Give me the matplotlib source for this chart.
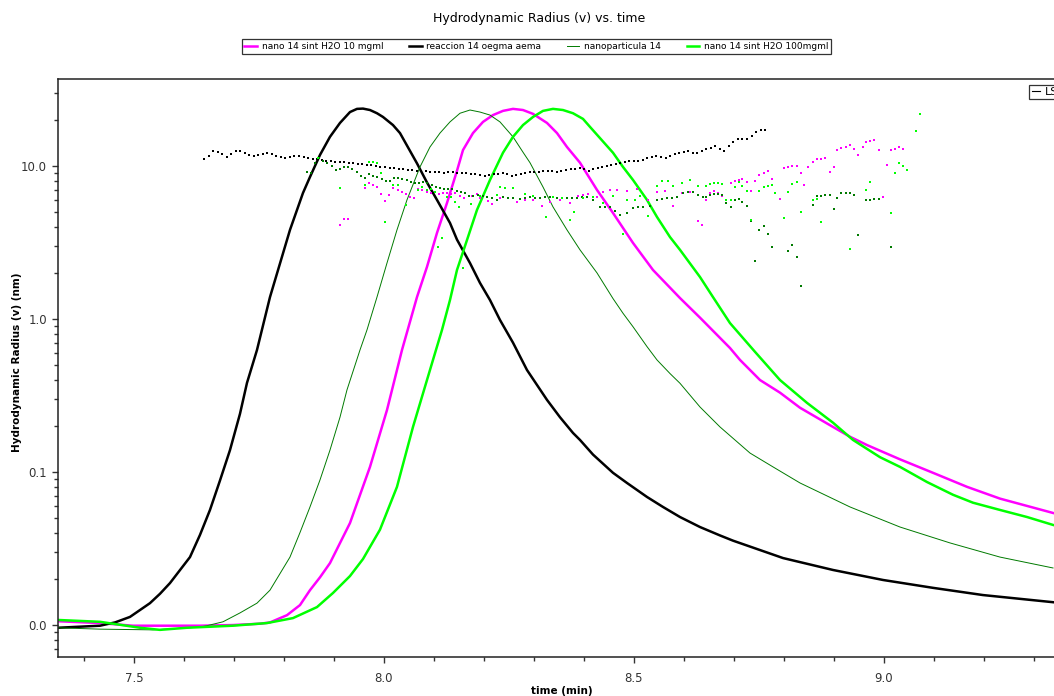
import matplotlib
matplotlib.use('Agg')
import matplotlib.pyplot as plt
from matplotlib.lines import Line2D
from matplotlib.ticker import FixedLocator, MultipleLocator, LogLocator, FuncFormatter, NullFormatter
import numpy

plt.rcParams['font.family'] = ['DejaVu Sans']

# Concentration traces (time in min)
t_nano10 = [7.346, 7.432, 7.498, 7.632, 7.698, 7.752, 7.772, 7.806, 7.832, 7.852, 7.872, 7.892, 7.932,
            7.972, 8.006, 8.036, 8.066, 8.086, 8.106, 8.126, 8.146, 8.158, 8.178, 8.198, 8.218, 8.238,
            8.258, 8.278, 8.298, 8.326, 8.346, 8.366, 8.392, 8.426, 8.458, 8.498, 8.538, 8.592, 8.632,
            8.692, 8.712, 8.752, 8.792, 8.832, 8.898, 8.932, 8.966, 9.032, 9.098, 9.166, 9.232, 9.338]
y_nano10 = [0.0106, 0.0103, 0.0099, 0.0099, 0.0100, 0.0102, 0.0104, 0.0116, 0.0135, 0.0169, 0.0205, 0.0254,
            0.0464, 0.108, 0.254, 0.627, 1.39, 2.19, 3.65, 5.73, 9.3, 12.7, 16.4, 19.4, 21.5, 22.9,
            23.6, 23.2, 21.9, 19.1, 16.4, 13.3, 10.5, 6.97, 4.93, 3.14, 2.09, 1.37, 1.02,
            0.646, 0.54, 0.399, 0.33, 0.263, 0.197, 0.170, 0.150, 0.121, 0.0988, 0.080, 0.067, 0.054]

t_reac = [7.348, 7.432, 7.462, 7.492, 7.532, 7.552, 7.572, 7.612, 7.632, 7.652, 7.672, 7.692, 7.712,
          7.726, 7.746, 7.772, 7.812, 7.838, 7.852, 7.872, 7.892, 7.912, 7.932, 7.946, 7.958, 7.972,
          7.986, 7.998, 8.018, 8.032, 8.066, 8.086, 8.106, 8.132, 8.146, 8.172, 8.192, 8.212, 8.232,
          8.258, 8.286, 8.326, 8.352, 8.378, 8.392, 8.418, 8.458, 8.486, 8.526, 8.558, 8.592, 8.632,
          8.672, 8.698, 8.798, 8.898, 8.998, 9.098, 9.198, 9.338]
y_reac = [0.0096, 0.0099, 0.0104, 0.0113, 0.0139, 0.0160, 0.0188, 0.0278, 0.0388, 0.0565, 0.088, 0.139, 0.24,
          0.382, 0.627, 1.39, 3.82, 6.66, 8.47, 11.8, 15.5, 19.1, 22.5, 23.6, 23.7, 23.2,
          22.1, 20.9, 18.5, 16.4, 10.4, 7.8, 6.0, 4.24, 3.3, 2.32, 1.72, 1.33, 0.985,
          0.70, 0.464, 0.296, 0.228, 0.180, 0.162, 0.130, 0.0988, 0.0848, 0.0687, 0.0591, 0.0508, 0.0437,
          0.0385, 0.0356, 0.0274, 0.0229, 0.0197, 0.0175, 0.0157, 0.0141]

t_np14 = [7.346, 7.432, 7.538, 7.632, 7.646, 7.678, 7.712, 7.746, 7.772, 7.812, 7.832, 7.852, 7.872,
          7.892, 7.912, 7.926, 7.952, 7.966, 7.986, 8.006, 8.026, 8.046, 8.072, 8.092, 8.112, 8.132,
          8.152, 8.172, 8.192, 8.212, 8.232, 8.258, 8.278, 8.292, 8.318, 8.338, 8.366, 8.392, 8.426,
          8.458, 8.478, 8.498, 8.526, 8.546, 8.572, 8.592, 8.632, 8.672, 8.732, 8.778, 8.832, 8.932,
          9.032, 9.132, 9.232, 9.338]
y_np14 = [0.0096, 0.0094, 0.0093, 0.0097, 0.0099, 0.0105, 0.0120, 0.0139, 0.0169, 0.0278, 0.0402, 0.0591, 0.0887,
          0.139, 0.228, 0.344, 0.627, 0.848, 1.39, 2.32, 3.82, 6.0, 9.85, 13.3, 16.4, 19.4,
          22.1, 23.2, 22.5, 21.5, 19.4, 15.5, 12.3, 10.5, 7.29, 5.40, 3.82, 2.83, 2.00,
          1.36, 1.09, 0.89, 0.66, 0.54, 0.44, 0.38, 0.266, 0.197, 0.133, 0.108, 0.0848, 0.0591,
          0.0437, 0.0344, 0.0278, 0.0236]

t_nano100 = [7.346, 7.432, 7.512, 7.552, 7.606, 7.698, 7.766, 7.818, 7.866, 7.898, 7.932, 7.958, 7.992,
             8.026, 8.058, 8.098, 8.116, 8.132, 8.146, 8.166, 8.186, 8.212, 8.238, 8.258, 8.278, 8.298,
             8.318, 8.338, 8.358, 8.378, 8.398, 8.412, 8.432, 8.458, 8.478, 8.498, 8.526, 8.546, 8.572,
             8.592, 8.632, 8.658, 8.692, 8.742, 8.792, 8.846, 8.898, 8.938, 8.992, 9.032, 9.086, 9.138,
             9.178, 9.232, 9.286, 9.338]
y_nano100 = [0.0108, 0.0105, 0.0096, 0.0093, 0.0096, 0.0099, 0.0103, 0.0111, 0.0131, 0.0162, 0.0209, 0.027, 0.042,
             0.080, 0.197, 0.54, 0.848, 1.33, 2.09, 3.28, 5.16, 8.1, 12.2, 15.5, 18.5, 20.9,
             22.9, 23.6, 23.2, 22.1, 20.3, 18.0, 15.2, 12.2, 9.85, 8.1, 6.0, 4.64, 3.43,
             2.83, 1.88, 1.39, 0.94, 0.61, 0.399, 0.283, 0.21, 0.162, 0.125, 0.108, 0.086, 0.071,
             0.063, 0.0565, 0.0508, 0.0451]

# Radius per slice (nm); the reaction run is sampled on a regular grid
reac_dots_start = 7.640
reac_dots_step = 0.00905
r_reac = [11.1, 11.6, 12.5, 12.3, 12.0, 11.5, 12.0, 12.5, 12.5, 12.2,
          11.8, 11.6, 11.8, 12.0, 12.2, 12.0, 11.6, 11.5, 11.3, 11.5,
          11.6, 11.6, 11.5, 11.3, 11.1, 11.1, 10.9, 10.8, 10.8, 10.6,
          10.6, 10.6, 10.5, 10.5, 10.3, 10.3, 10.15, 10.15, 10.0, 9.85,
          9.85, 9.70, 9.70, 9.56, 9.56, 9.41, 9.41, 9.27, 9.27, 9.27,
          9.14, 9.14, 9.14, 9.00, 9.14, 9.14, 9.00, 9.00, 9.00, 8.87,
          8.87, 8.73, 8.60, 8.73, 8.87, 8.87, 9.00, 8.87, 8.60, 8.73,
          8.87, 9.00, 9.14, 9.14, 9.14, 9.27, 9.27, 9.27, 9.14, 9.27,
          9.41, 9.56, 9.56, 9.70, 9.56, 9.27, 9.56, 9.70, 9.85, 10.0,
          10.15, 10.3, 10.5, 10.6, 10.8, 10.8, 10.8, 10.9, 11.3, 11.5,
          11.6, 11.5, 11.3, 11.6, 12.0, 12.2, 12.3, 12.5, 12.2, 12.2,
          12.5, 12.9, 13.1, 13.5, 12.9, 12.5, 13.5, 14.4, 15.0, 15.0,
          15.0, 15.7, 16.7, 17.2, 17.2]

tr_np14 = [7.846, 7.854, 7.862, 7.870, 7.878, 7.886, 7.896, 7.904, 7.912, 7.920, 7.928, 7.936, 7.946,
           7.954, 7.962, 7.970, 7.978, 7.986, 7.996, 8.004, 8.012, 8.020, 8.028, 8.036, 8.046, 8.054,
           8.062, 8.070, 8.078, 8.086, 8.096, 8.104, 8.112, 8.120, 8.128, 8.136, 8.146, 8.154, 8.162,
           8.170, 8.178, 8.188, 8.198, 8.206, 8.216, 8.226, 8.238, 8.248, 8.258, 8.272, 8.282, 8.292,
           8.302, 8.312, 8.322, 8.332, 8.346, 8.356, 8.366, 8.376, 8.386, 8.396, 8.406, 8.418, 8.432,
           8.442, 8.452, 8.462, 8.472, 8.486, 8.498, 8.508, 8.518, 8.532, 8.546, 8.556, 8.566, 8.576,
           8.586, 8.598, 8.608, 8.618, 8.628, 8.638, 8.644, 8.652, 8.660, 8.668, 8.676, 8.684, 8.694,
           8.702, 8.710, 8.716, 8.726, 8.734, 8.742, 8.750, 8.760, 8.768, 8.776, 8.808, 8.816, 8.826,
           8.834, 8.858, 8.866, 8.874, 8.882, 8.892, 8.900, 8.906, 8.914, 8.924, 8.932, 8.940, 8.948,
           8.964, 8.972, 8.980, 8.990, 9.014]
r_np14 = [9.14, 9.00, 10.5, 11.3, 10.8, 10.5, 10.0, 9.41, 9.56, 9.85, 9.85, 9.56, 9.14,
          8.60, 8.35, 8.87, 8.60, 8.47, 8.22, 7.98, 7.98, 8.35, 8.35, 8.22, 8.10, 7.86,
          7.74, 7.74, 7.86, 7.74, 7.51, 7.29, 7.18, 7.08, 7.08, 7.08, 6.87, 6.77, 6.66,
          6.37, 6.37, 6.46, 6.37, 6.27, 6.18, 6.00, 6.27, 6.18, 6.18, 6.09, 6.18, 6.27,
          6.18, 6.18, 6.27, 6.27, 6.18, 6.18, 6.18, 6.18, 6.18, 6.27, 6.27, 6.00, 5.40,
          5.40, 5.40, 5.08, 4.78, 4.93, 5.31, 5.40, 5.40, 5.48, 6.00, 6.09, 6.18, 6.18,
          6.27, 6.66, 6.77, 6.77, 6.46, 6.27, 6.27, 6.46, 6.56, 6.56, 6.46, 5.73, 5.40,
          6.00, 6.09, 5.82, 5.48, 4.37, 2.39, 3.82, 4.06, 3.59, 2.96, 2.78, 3.05, 2.54,
          1.64, 5.56, 6.37, 6.37, 6.46, 6.46, 5.23, 6.18, 6.66, 6.66, 6.66, 6.46, 3.54,
          6.00, 6.00, 6.09, 6.09, 2.96]

tr_nano10 = [7.912, 7.920, 7.928, 7.962, 7.970, 7.978, 7.986, 7.994, 8.002, 8.010, 8.018, 8.028, 8.036,
             8.044, 8.052, 8.060, 8.068, 8.076, 8.086, 8.094, 8.102, 8.110, 8.118, 8.126, 8.134, 8.142,
             8.152, 8.160, 8.176, 8.186, 8.192, 8.208, 8.216, 8.232, 8.248, 8.266, 8.282, 8.298, 8.316,
             8.332, 8.352, 8.372, 8.388, 8.398, 8.408, 8.426, 8.438, 8.452, 8.466, 8.486, 8.506, 8.528,
             8.546, 8.562, 8.578, 8.596, 8.612, 8.628, 8.636, 8.644, 8.652, 8.660, 8.668, 8.676, 8.694,
             8.702, 8.710, 8.716, 8.726, 8.734, 8.742, 8.750, 8.760, 8.768, 8.776, 8.792, 8.800, 8.808,
             8.816, 8.826, 8.834, 8.840, 8.848, 8.858, 8.866, 8.874, 8.882, 8.892, 8.900, 8.906, 8.914,
             8.924, 8.932, 8.940, 8.948, 8.958, 8.964, 8.972, 8.980, 8.990, 8.998, 9.006, 9.014, 9.022,
             9.030, 9.038]
r_nano10 = [4.11, 4.51, 4.51, 7.18, 7.74, 7.51, 7.29, 6.56, 5.90, 6.46, 7.18, 6.97, 6.77,
            6.56, 6.27, 6.18, 7.08, 6.97, 6.77, 6.66, 6.77, 6.56, 6.66, 6.66, 6.56, 6.66,
            6.37, 6.18, 6.37, 6.56, 6.18, 5.90, 5.65, 6.18, 6.18, 5.82, 6.00, 6.00, 5.48,
            5.82, 6.00, 5.73, 6.37, 6.46, 6.56, 6.27, 6.77, 6.97, 6.97, 6.87, 7.08, 6.00,
            6.77, 6.87, 5.48, 6.66, 6.77, 4.37, 4.11, 6.00, 6.66, 6.87, 6.66, 6.37, 7.74,
            7.98, 8.10, 8.22, 7.86, 6.87, 7.98, 8.73, 9.00, 9.27, 8.22, 6.09, 9.70, 9.85,
            10.0, 10.0, 9.00, 7.51, 9.85, 10.6, 11.1, 11.1, 11.3, 9.14, 9.85, 12.7, 13.1,
            13.3, 13.7, 12.9, 11.8, 13.3, 14.4, 14.6, 14.8, 12.7, 6.27, 10.15, 12.7, 12.9,
            13.3, 12.9]

tr_nano100 = [7.868, 7.912, 7.962, 7.970, 7.978, 7.986, 7.994, 8.002, 8.018, 8.028, 8.044, 8.068, 8.076,
              8.086, 8.094, 8.102, 8.108, 8.116, 8.126, 8.134, 8.142, 8.150, 8.158, 8.174, 8.192, 8.226,
              8.232, 8.242, 8.258, 8.282, 8.298, 8.324, 8.338, 8.356, 8.372, 8.380, 8.398, 8.418, 8.438,
              8.458, 8.478, 8.486, 8.502, 8.512, 8.528, 8.546, 8.556, 8.568, 8.578, 8.596, 8.612, 8.628,
              8.644, 8.652, 8.660, 8.668, 8.676, 8.684, 8.694, 8.702, 8.710, 8.716, 8.726, 8.734, 8.750,
              8.760, 8.768, 8.776, 8.782, 8.800, 8.808, 8.816, 8.826, 8.834, 8.858, 8.866, 8.874, 8.932,
              8.964, 8.972, 9.014, 9.022, 9.030, 9.038, 9.046, 9.064, 9.072]
r_nano100 = [11.3, 7.18, 7.51, 10.6, 10.6, 10.5, 9.00, 4.30, 7.51, 7.51, 5.56, 6.97, 7.29,
             6.97, 7.08, 6.77, 2.96, 3.38, 6.27, 6.27, 5.82, 5.40, 2.16, 5.65, 6.37, 6.46,
             7.29, 7.18, 7.18, 6.56, 6.37, 4.64, 6.27, 6.18, 4.44, 5.00, 6.18, 6.27, 5.73,
             6.37, 3.59, 6.00, 6.00, 6.37, 4.71, 7.40, 7.98, 7.98, 7.40, 7.74, 8.10, 7.40,
             7.40, 7.63, 7.74, 7.74, 7.63, 6.00, 6.00, 7.29, 7.86, 7.40, 6.87, 4.44, 6.87,
             7.29, 7.40, 7.51, 6.66, 4.57, 6.77, 7.63, 7.86, 5.00, 6.00, 6.09, 4.30, 2.87,
             6.97, 7.86, 4.93, 9.00, 10.5, 10.0, 9.41, 16.9, 21.9]

labels = ['nano 14 sint H2O 10 mgml', 'reaccion 14 oegma aema', 'nanoparticula 14', 'nano 14 sint H2O 100mgml']
colors = ['#ff00ff', '#000000', '#007a00', '#00ff00']
widths = [1.8, 1.8, 0.7, 1.8]

fig = plt.figure(figsize=(10.54, 6.96), dpi=100)
ax = fig.add_axes([0.0550, 0.0560, 0.9564, 0.8305])

traces = [(t_nano10, y_nano10), (t_reac, y_reac), (t_np14, y_np14), (t_nano100, y_nano100)]
for (t, y), lab, c, w in zip(traces, labels, colors, widths):
    ax.plot(t, y, color=c, linewidth=w, label=lab)

t_reac_dots = reac_dots_start + reac_dots_step * numpy.arange(len(r_reac))
dots = [(tr_nano10, r_nano10, colors[0]), (t_reac_dots, r_reac, colors[1]),
        (tr_np14, r_np14, colors[2]), (tr_nano100, r_nano100, colors[3])]
for t, r, c in dots:
    ax.plot(t, r, linestyle='none', marker='s', markersize=2.1, markeredgewidth=0, color=c)

ax.set_yscale('log')
ax.set_xlim(7.348, 9.364)
ax.set_ylim(0.00618, 37.0)

ax.xaxis.set_major_locator(FixedLocator([7.5, 8.0, 8.5, 9.0]))
ax.xaxis.set_minor_locator(MultipleLocator(0.1))
ax.xaxis.set_major_formatter(FuncFormatter(lambda v, p: '%.1f' % v))
ax.yaxis.set_major_locator(FixedLocator([0.01, 0.1, 1.0, 10.0]))
ax.yaxis.set_minor_locator(LogLocator(base=10, subs=numpy.arange(2, 10)))
ax.yaxis.set_major_formatter(FuncFormatter(lambda v, p: '%.1f' % v))
ax.yaxis.set_minor_formatter(NullFormatter())

ax.tick_params(which='both', direction='out', colors='#333333', labelsize=8.5, width=1.0)
ax.tick_params(which='major', length=4.5)
ax.tick_params(which='minor', length=3)
ax.tick_params(axis='x', which='major', pad=6)
for s in ax.spines.values():
    s.set_linewidth(1.1)
    s.set_color('#222222')

ax.set_xlabel('time (min)', fontsize=7.5, fontweight='bold')
ax.set_ylabel('Hydrodynamic Radius (v) (nm)', fontsize=7.5, fontweight='bold')
ax.xaxis.set_label_coords(0.5, -0.050)
ax.yaxis.set_label_coords(-0.036, 0.51)

fig.text(0.5114, 0.974, 'Hydrodynamic Radius (v) vs. time', ha='center', va='center', fontsize=9)

leg = fig.legend(loc='upper center', bbox_to_anchor=(0.509, 0.950), ncol=4, fontsize=6.5,
                 frameon=True, fancybox=False, edgecolor='black', handlelength=1.4,
                 columnspacing=2.8, borderpad=0.3, handletextpad=0.55)
leg.get_frame().set_linewidth(0.9)

ls = ax.legend(handles=[Line2D([], [], color='black', linewidth=0.8)], labels=['LS'], loc='upper right',
               fontsize=8, frameon=True, fancybox=False, edgecolor='black', handlelength=0.8,
               borderpad=0.2, handletextpad=0.4, borderaxespad=0.5)
ls.get_frame().set_linewidth(0.9)

plt.savefig('out.png', dpi=100)
